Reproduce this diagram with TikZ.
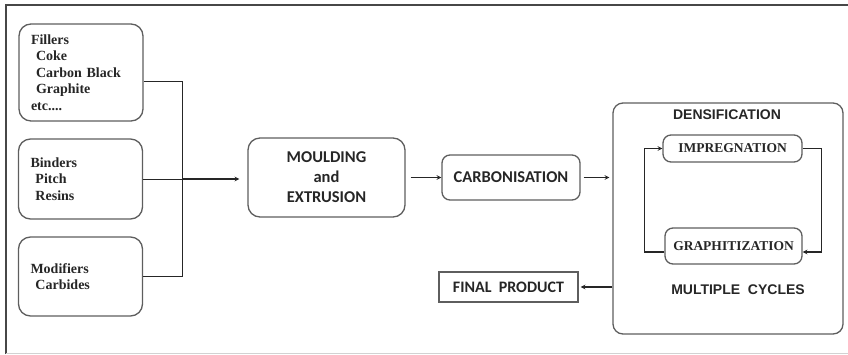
\documentclass[tikz,border=0pt]{standalone}
\usepackage{fontspec}
\setmainfont{Liberation Serif}
\newfontfamily\calibfont{Carlito}
\newfontfamily\arialfont{Liberation Sans}
\definecolor{boxgray}{HTML}{5E5E5E}
\definecolor{inkgray}{HTML}{262626}
\tikzset{every picture/.style={line width=0.75pt}}
\tikzset{
	rawbox/.style={draw=boxgray,line width=1.3pt,rounded corners=12pt,minimum width=124pt,inner xsep=12pt,text width=100pt,align=left,text=inkgray,font=\bfseries\fontsize{14}{16.6}\selectfont},
	stagebox/.style={draw=boxgray,line width=1.3pt,rounded corners=10pt,align=center,text=inkgray,font=\calibfont\bfseries\fontsize{16.5}{20}\selectfont},
	cyclebox/.style={draw=boxgray,line width=1.3pt,rounded corners=8pt,text=inkgray,font=\bfseries\fontsize{13.5}{16}\selectfont},
	headtext/.style={text=inkgray,font=\arialfont\bfseries\fontsize{14}{16}\selectfont},
	flow/.style={->,>=stealth,draw=inkgray,line width=1.1pt},
}

\begin{document}
\begin{tikzpicture}[x=1pt,y=-1pt]
				\useasboundingbox (0,0) rectangle (848,354);
				\draw[inkgray!85,line width=2pt] (6,354)--(6,5)--(848,5); %枠
				\draw[gray!35,line width=1pt] (6,353)--(848,353);
				% 原料
				\node[rawbox,minimum height=97pt] (fillers) at (81,72.5) {Fillers\\\hspace*{5pt}Coke\\\hspace*{5pt}Carbon Black\\\hspace*{5pt}Graphite\\etc....};
				\node[rawbox,minimum height=80pt] (binders) at (80.5,179) {Binders\\\hspace*{5pt}Pitch\\\hspace*{5pt}Resins};
				\node[rawbox,minimum height=79pt] (modifiers) at (80.5,276.5) {Modifiers\\\hspace*{5pt}Carbides};
				\coordinate (bustop) at (182,81);
				\coordinate (busmid) at (182,179);
				\coordinate (busbot) at (182,276);
				\draw[inkgray,line width=1pt] (fillers.east|-bustop)--(bustop)--(busbot)--(modifiers.east|-busbot);
				\draw[inkgray,line width=1pt] (binders.east)--(busmid);
				% 工程
				\node[stagebox,rounded corners=12pt,minimum width=157pt,minimum height=79pt] (moulding) at (326.5,177.5) {MOULDING\\and\\EXTRUSION};
				\node[stagebox,rounded corners=8pt,minimum width=138pt,minimum height=45pt] (carbon) at (511,177.5) {CARBONISATION};
				\node[draw=boxgray,line width=1.3pt,rounded corners=10pt,minimum width=230pt,minimum height=231pt] (densify) at (728,218.5) {};
				\node[headtext] (denstitle) at (727,115) {DENSIFICATION};
				\node[cyclebox,minimum width=139pt,minimum height=27pt] (impreg) at (732.5,148.5) {IMPREGNATION};
				\node[cyclebox,minimum width=137pt,minimum height=36pt] (graphit) at (733.5,246) {GRAPHITIZATION};
				\node[headtext] (cycles) at (738,290) {MULTIPLE\ \ CYCLES};
				\node[draw=boxgray,line width=1.3pt,minimum width=139pt,minimum height=30pt,text=inkgray,font=\calibfont\bfseries\fontsize{16}{18}\selectfont] (final) at (508.5,287) {FINAL\ \ PRODUCT};
				% 矢印
				\draw[flow,shorten >=8pt] (busmid)--(moulding.west|-busmid);
				\draw[flow,shorten <=5pt] (moulding.east)--(carbon.west);
				\draw[flow,shorten <=3pt,shorten >=3pt] (carbon.east)--(densify.west|-carbon.east);
				\draw[flow] ([yshift=-6pt]graphit.west)--++(-20,0)|-(impreg.west); %繰り返し
				\draw[flow] (impreg.east)--++(19,0)|-([yshift=-6pt]graphit.east);
				\draw[flow,shorten >=2pt] (densify.west|-final.east)--(final.east);
			\end{tikzpicture}
\end{document}
